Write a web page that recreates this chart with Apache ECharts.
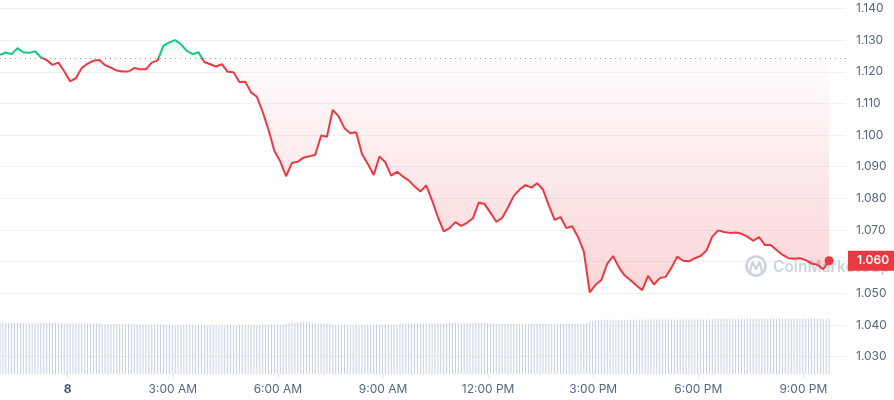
<!DOCTYPE html>
<html><head><meta charset="utf-8">
<script src="https://cdn.jsdelivr.net/npm/echarts@6/dist/echarts.min.js"></script>
<style>html,body{margin:0;padding:0;background:#fff}#c{width:894px;height:400px}</style>
</head><body><div id="c"></div>
<script>
// x values are minutes from midnight of day "8" (negative = previous evening)
const startMinute = -116;
const priceStepMinutes = 10;
const volumeStepMinutes = 5;
const xMinMinute = -116;
const xMaxMinute = 1333;

const prices = [
  1.1254, 1.1261, 1.1256, 1.1275, 1.1262, 1.1260, 1.1265, 1.1246, 1.1237, 1.1222,
  1.1229, 1.1202, 1.1170, 1.1180, 1.1212, 1.1226, 1.1235, 1.1237, 1.1221, 1.1213,
  1.1204, 1.1201, 1.1201, 1.1212, 1.1208, 1.1208, 1.1229, 1.1236, 1.1283, 1.1293,
  1.1300, 1.1287, 1.1266, 1.1256, 1.1262, 1.1231, 1.1224, 1.1217, 1.1224, 1.1200,
  1.1199, 1.1168, 1.1169, 1.1135, 1.1121, 1.1073, 1.1016, 1.0950, 1.0917, 1.0870,
  1.0912, 1.0916, 1.0929, 1.0933, 1.0938, 1.0999, 1.0995, 1.1080, 1.1059, 1.1022,
  1.1006, 1.1009, 1.0940, 1.0909, 1.0874, 1.0932, 1.0914, 1.0872, 1.0884, 1.0869,
  1.0857, 1.0838, 1.0822, 1.0841, 1.0794, 1.0741, 1.0696, 1.0706, 1.0725, 1.0713,
  1.0723, 1.0737, 1.0787, 1.0782, 1.0755, 1.0726, 1.0738, 1.0771, 1.0808, 1.0828,
  1.0842, 1.0834, 1.0848, 1.0828, 1.0778, 1.0732, 1.0741, 1.0706, 1.0712, 1.0678,
  1.0632, 1.0503, 1.0527, 1.0542, 1.0593, 1.0618, 1.0582, 1.0556, 1.0541, 1.0525,
  1.0510, 1.0555, 1.0528, 1.0548, 1.0552, 1.0581, 1.0616, 1.0603, 1.0601, 1.0611,
  1.0618, 1.0635, 1.0679, 1.0699, 1.0694, 1.0691, 1.0692, 1.0688, 1.0679, 1.0666,
  1.0678, 1.0653, 1.0653, 1.0637, 1.0622, 1.0611, 1.0609, 1.0611, 1.0605, 1.0594,
  1.0590, 1.0576, 1.0603
];

const volumes = [
  509,509,509,509,509,509,509,509,509,509,
  509,509,509,509,509,509,509,509,509,509,
  507,507,507,507,507,507,507,507,507,507,
  507,507,507,507,507,
  497,497,497,497,497,497,497,497,497,497,497,497,
  495,495,495,495,495,495,495,495,495,495,495,495,
  488,488,488,488,488,488,488,488,488,488,
  488,488,488,488,488,488,488,488,488,488,
  488,488,488,488,488,488,488,488,488,488,
  492,494,495,495,495,495,495,495,495,
  505,512,515,518,520,
  524,525,524,520,515,
  505,505,505,505,505,505,
  492,492,492,492,492,492,492,492,492,492,
  492,492,492,492,492,492,492,492,492,492,
  492,492,492,
  506,506,506,506,506,506,506,506,506,506,506,506,506,506,506,506,
  510,510,510,510,510,510,510,510,510,510,510,510,510,510,510,
  502,502,502,502,502,502,502,502,502,502,
  502,502,502,502,502,502,502,502,502,502,
  502,502,502,502,502,502,502,502,502,502,
  502,502,502,
  512,520,530,
  542,542,542,542,542,542,542,542,542,542,542,542,542,542,
  536,
  545,545,545,545,545,545,545,545,545,545,545,545,
  545,545,545,545,545,545,545,545,545,545,545,545,
  552,552,552,552,552,552,552,552,552,552,
  552,552,552,552,552,552,552,552,552,552,
  552,552,552,552,552,552,552,552,552,552,
  552,552,552,552,552,552,552,552,552,552,
  552,552
];

const baselinePrice = 1.1243;
const lastPriceLabel = '1.060';
const xTickMinutes = [0, 180, 360, 540, 720, 900, 1080, 1260];
const xTickLabels = ['8', '3:00 AM', '6:00 AM', '9:00 AM', '12:00 PM', '3:00 PM', '6:00 PM', '9:00 PM'];
const yTickValues = [1.03, 1.04, 1.05, 1.06, 1.07, 1.08, 1.09, 1.10, 1.11, 1.12, 1.13, 1.14];
const yMin = 1.0245, yMax = 1.1427;
const volumeAxisMax = 3740;

const RED = '#ea3943', GREEN = '#16c784', LABEL = '#58667e', GRID = '#eff2f5';

const priceData = prices.map((v, i) => [startMinute + i * priceStepMinutes, v]);
const volumeData = volumes.map((v, i) => [startMinute + i * volumeStepMinutes, v]);
const redArea = prices.map((v, i) => [startMinute + i * priceStepMinutes, Math.min(v, baselinePrice)]);
const greenArea = prices.map((v, i) => [startMinute + i * priceStepMinutes, Math.max(v, baselinePrice)]);
const last = priceData[priceData.length - 1];

const chart = echarts.init(document.getElementById('c'), null, {renderer: 'canvas'});
chart.setOption({
  animation: false,
  backgroundColor: '#fff',
  grid: {left: 0, right: 48, top: 0, bottom: 26, containLabel: false},
  xAxis: {
    type: 'value', min: xMinMinute, max: xMaxMinute,
    axisLine: {show: false},
    axisTick: {show: true, length: 4, lineStyle: {color: '#dfe3ea'}, customValues: xTickMinutes},
    splitLine: {show: false},
    axisLabel: {
      customValues: xTickMinutes, margin: 9, fontFamily: 'Inter', fontSize: 12, color: LABEL,
      formatter: function (v) {
        const i = xTickMinutes.indexOf(v);
        const t = i >= 0 ? xTickLabels[i] : '';
        return i === 0 ? '{b|' + t + '}' : t;
      },
      rich: {b: {fontWeight: 'bold', fontFamily: 'Inter', fontSize: 12, color: '#4a5568'}}
    }
  },
  yAxis: [{
    type: 'value', position: 'right', min: yMin, max: yMax,
    axisLine: {show: false},
    axisTick: {show: false, customValues: yTickValues},
    splitLine: {show: true, lineStyle: {color: GRID, width: 1}},
    axisLabel: {customValues: yTickValues, margin: 10, fontFamily: 'Inter', fontSize: 12, color: LABEL,
      formatter: v => v.toFixed(3)}
  }, {
    type: 'value', min: 0, max: volumeAxisMax, show: false, splitLine: {show: false}
  }],
  visualMap: {
    show: false, type: 'piecewise', seriesIndex: 3, dimension: 1,
    pieces: [{min: baselinePrice, max: 2, color: GREEN}, {min: 0, max: baselinePrice, color: RED}]
  },
  graphic: [
    {type: 'circle', z: 1, shape: {cx: 756, cy: 266, r: 9.5},
      style: {fill: 'none', stroke: '#ccd3de', lineWidth: 2.6}},
    {type: 'polyline', z: 1, shape: {points: [[750, 271], [752.5, 262], [756, 269], [759.5, 262], [762, 271]]},
      style: {fill: 'none', stroke: '#ccd3de', lineWidth: 2.2, lineJoin: 'round', lineCap: 'round'}},
    {type: 'text', z: 1, style: {text: 'CoinMarketCap', x: 773, y: 267, verticalAlign: 'middle',
      font: '600 15.5px Inter', fill: '#ccd3de'}}
  ],
  series: [
    {
      type: 'bar', xAxisIndex: 0, yAxisIndex: 1, data: volumeData, barWidth: 1,
      itemStyle: {color: '#c6cfdf'}, silent: true, z: 2
    },
    {
      type: 'line', data: redArea, showSymbol: false, silent: true, z: 3,
      lineStyle: {width: 0, opacity: 0},
      areaStyle: {origin: baselinePrice, color: new echarts.graphic.LinearGradient(0, 0, 0, 1, [
        {offset: 0, color: 'rgba(234,57,67,0.02)'}, {offset: 1, color: 'rgba(234,57,67,0.30)'}])}
    },
    {
      type: 'line', data: greenArea, showSymbol: false, silent: true, z: 3,
      lineStyle: {width: 0, opacity: 0},
      areaStyle: {origin: baselinePrice, color: new echarts.graphic.LinearGradient(0, 0, 0, 1, [
        {offset: 0, color: 'rgba(22,199,132,0.16)'}, {offset: 1, color: 'rgba(22,199,132,0.02)'}])}
    },
    {
      type: 'line', data: priceData, showSymbol: false, z: 5, clip: false,
      lineStyle: {width: 2},
      markLine: {
        silent: true, symbol: 'none', animation: false, precision: 4,
        data: [
          {yAxis: baselinePrice, lineStyle: {color: '#8f96a3', type: [1, 4], width: 1.2}, label: {show: false}},
          {yAxis: last[1], lineStyle: {color: 'rgba(0,0,0,0)', width: 0, opacity: 1}, label: {
            show: true, position: 'end', distance: 2, formatter: lastPriceLabel, opacity: 1,
            color: '#fff', backgroundColor: RED, padding: [4, 9, 4, 9],
            fontFamily: 'Inter', fontSize: 12, fontWeight: 600}}
        ]
      },
      markPoint: {
        silent: true, animation: false,
        data: [{coord: last, symbol: 'circle', symbolSize: 9, itemStyle: {color: RED}, label: {show: false}}]
      }
    }
  ]
});
</script>
</body></html>
